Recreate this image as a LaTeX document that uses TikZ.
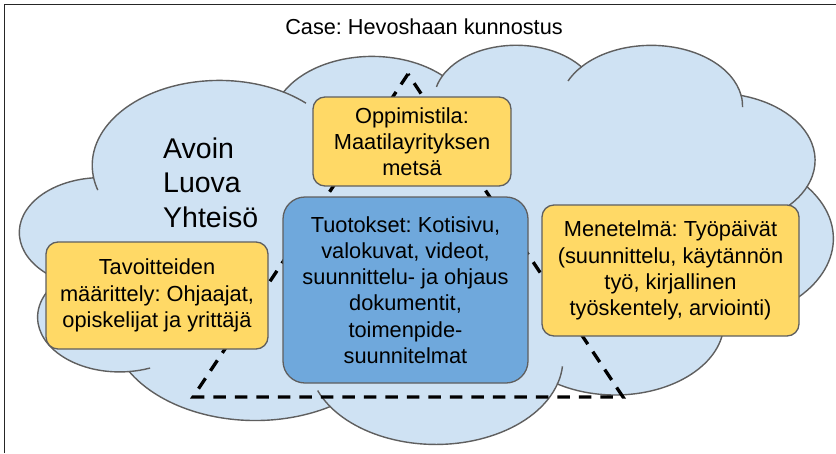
\documentclass[tikz,border=0pt]{standalone}
\usepackage{fontspec}
\setmainfont{Liberation Sans}
\frenchspacing
\definecolor{cloudblue}{HTML}{CFE2F3}
\definecolor{edgegray}{HTML}{5F5F5F}
\definecolor{paleyellow}{HTML}{FFD966}
\definecolor{midblue}{HTML}{6FA8DC}

\begin{document}
\begin{tikzpicture}[x=1pt,y=-1pt,
  boxtext/.style={font=\fontsize{21.8}{26.2}\selectfont, align=center, inner sep=0pt, text=black},
  yellowbox/.style={boxtext, draw=edgegray, line width=1.3pt, fill=paleyellow, rounded corners=12pt},
  bluebox/.style={boxtext, draw=edgegray, line width=1.3pt, fill=midblue, rounded corners=22pt},
  cloudline/.style={draw=edgegray, line width=1.4pt},
  triline/.style={draw=black, line width=3.3pt, dash pattern=on 12.5pt off 9pt},
]
\useasboundingbox (0,0) rectangle (836,453);
\fill[white] (0,0) rectangle (836,453);

% frame (its right and bottom sides lie beyond the page)
\coordinate (frameBL) at (4.5,453);
\coordinate (frameTL) at (4.5,4.5);
\coordinate (frameTR) at (836,4.5);
\draw[line width=1.5pt, draw=black!85] (frameBL) -- (frameTL) -- (frameTR);

% cloud: eleven elliptic lobes, plus the short inner arcs between lobes
\begin{scope}[shift={(20,44)}, x=1.88194pt, y=-0.923611pt]
  \coordinate (c1)  at (105.914,131.315);
  \coordinate (c3)  at (263.628,60.830);
  \coordinate (c4)  at (335.387,67.393);
  \coordinate (c5)  at (369.178,125.879);
  \coordinate (c7)  at (316.225,301.364);
  \coordinate (c8)  at (220.964,341.400);
  \coordinate (c10) at (52.976,295.855);
  \coordinate (c11) at (43.098,204.107);
  \coordinate (cloudstart) at (39.00,143.70);
  \path[cloudline, fill=cloudblue] (cloudstart)
    arc[x radius=67.53, y radius=91.90,  start angle=-187.745, end angle=-59.64]
    arc[x radius=53.33, y radius=72.67,  start angle=-152.04,  end angle=-45.455]
    arc[x radius=43.65, y radius=59.45,  start angle=-153.50,  end angle=-37.34]
    arc[x radius=48.57, y radius=65.95,  start angle=-139.72,  end angle=-10.21]
    arc[x radius=53.33, y radius=72.73,  start angle=-74.77,   end angle=23.21]
    arc[x radius=67.75, y radius=92.20,  start angle=-37.54,   end angle=81.86]
    arc[x radius=57.85, y radius=78.67,  start angle=0.46,     end angle=121.98]
    arc[x radius=67.52, y radius=92.15,  start angle=16.84,    end angle=146.25]
    arc[x radius=77.20, y radius=105.43, start angle=58.98,    end angle=150.20]
    arc[x radius=43.60, y radius=59.18,  start angle=83.31,    end angle=223.11]
    arc[x radius=43.45, y radius=59.45,  start angle=120.35,   end angle=264.11]
    -- cycle;
  \draw[cloudline] (c1) ++(163:67.53 and 91.90)
    arc[x radius=67.53, y radius=91.90, start angle=163, end angle=172.3];
  \draw[cloudline] (c1) ++(-59.64:67.53 and 91.90)
    arc[x radius=67.53, y radius=91.90, start angle=-59.64, end angle=-47];
  \draw[cloudline] (c3) ++(-166:43.65 and 59.45)
    arc[x radius=43.65, y radius=59.45, start angle=-166, end angle=-153.5];
  \draw[cloudline] (c4) ++(-155.5:48.57 and 65.95)
    arc[x radius=48.57, y radius=65.95, start angle=-155.5, end angle=-139.72];
  \draw[cloudline] (c4) ++(-10.21:48.57 and 65.95)
    arc[x radius=48.57, y radius=65.95, start angle=-10.21, end angle=0.8];
  \draw[cloudline] (c5) ++(23.21:53.33 and 72.73)
    arc[x radius=53.33, y radius=72.73, start angle=23.21, end angle=49.64];
  \draw[cloudline] (c7) ++(-64.04:57.85 and 78.67)
    arc[x radius=57.85, y radius=78.67, start angle=-64.04, end angle=0.46];
  \draw[cloudline] (c8) ++(4.74:67.52 and 92.15)
    arc[x radius=67.52, y radius=92.15, start angle=4.74, end angle=16.84];
  \draw[cloudline] (c8) ++(146.25:67.52 and 92.15)
    arc[x radius=67.52, y radius=92.15, start angle=146.25, end angle=158.47];
  \draw[cloudline] (c10) ++(68.24:43.60 and 59.18)
    arc[x radius=43.60, y radius=59.18, start angle=68.24, end angle=83.31];
  \draw[cloudline] (c11) ++(85.54:43.45 and 59.45)
    arc[x radius=43.45, y radius=59.45, start angle=85.54, end angle=120.35];
\end{scope}

% dashed triangle behind the boxes
\coordinate (apex) at (408,74);
\coordinate (triBL) at (193,397);
\coordinate (triBR) at (623,397);
\draw[triline] (apex) -- (triBL) -- (triBR) -- cycle;

% boxes
\node[yellowbox, minimum width=198pt, minimum height=89pt] (place) at (412,141.5)
  {Oppimistila:\\Maatilayrityksen\\metsä};
\node[bluebox, minimum width=245pt, minimum height=186pt] (outputs) at (405.5,290)
  {Tuotokset: Kotisivu,\\valokuvat, videot,\\suunnittelu- ja ohjaus\\dokumentit,\\toimenpide-\\suunnitelmat};
\node[yellowbox, minimum width=222pt, minimum height=107pt] (goals) at (157,295.5)
  {Tavoitteiden\\määrittely: Ohjaajat,\\opiskelijat ja yrittäjä};
\node[yellowbox, minimum width=257pt, minimum height=131pt] (method) at (670.5,270.5)
  {Menetelmä: Työpäivät\\(suunnittelu, käytännön\\työ, kirjallinen\\työskentely, arviointi)};

% free texts
\node[font=\fontsize{28.5}{34.5}\selectfont, align=left, anchor=west, inner sep=0pt]
  (community) at (163,182.5) {Avoin\\Luova\\Yhteisö};
\node[font=\fontsize{21.7}{26}\selectfont, anchor=base, inner sep=0pt]
  (title) at (424,34.3) {Case: Hevoshaan kunnostus};
\end{tikzpicture}
\end{document}
